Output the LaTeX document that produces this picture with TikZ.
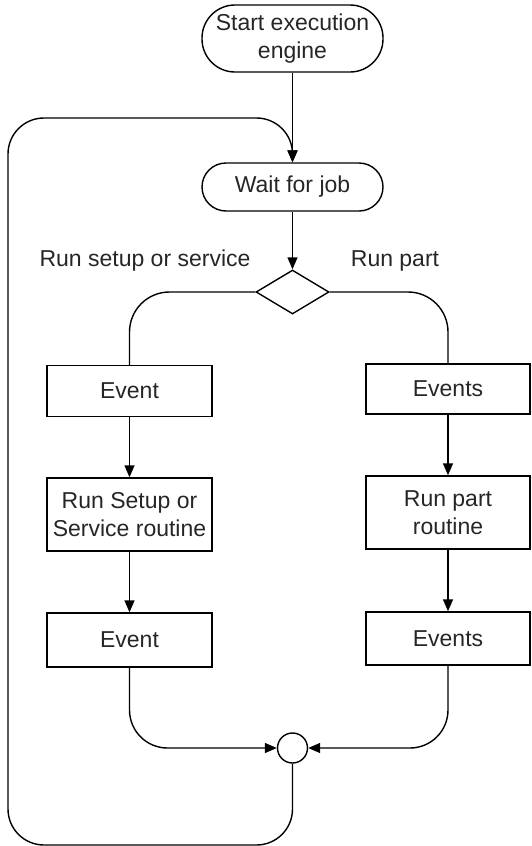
\documentclass[tikz,border=0pt]{standalone}
\usepackage{fontspec}
\setmainfont{Liberation Sans}
\usetikzlibrary{shapes.geometric,arrows.meta}
\begin{document}
\begin{tikzpicture}[x=1pt,y=-1pt,>={Triangle[length=12pt,width=10pt]}]
        \tikzstyle{terminal}=[rectangle,draw=black,line width=1.4pt,text=black!85,align=center,inner sep=2pt,minimum width=181pt,font=\fontsize{23}{28}\selectfont]
        \tikzstyle{process}=[rectangle,draw=black,line width=1.4pt,text=black!85,align=center,inner sep=2pt,minimum width=165pt,font=\fontsize{23}{28}\selectfont]
        \tikzstyle{decision}=[diamond,draw=black,line width=1.4pt,inner sep=0pt,minimum width=73pt,minimum height=44pt]
        \tikzstyle{junction}=[circle,draw=black,line width=1.4pt,inner sep=0pt,minimum size=30pt]
        \tikzstyle{caption}=[text=black!85,font=\fontsize{23}{28}\selectfont]
        \tikzstyle{flow}=[draw=black,line width=1.4pt]
        \useasboundingbox (0,0) rectangle (532,846);
       \begin{scope}
         \node [terminal,minimum height=67pt,rounded corners=33pt] (start) at (292.5,38.5) {Start execution\\engine};
         \node [terminal,minimum height=48pt,rounded corners=24pt] (wait) at (292.5,187) {Wait for job};
         \node [decision] (choice) at (292.5,292) {};
         \node [caption] (lsetup) at (145,261) {Run setup or service};
         \node [caption] (lpart) at (395,261) {Run part};

         \node [process,minimum height=51pt] (ev1) at (129.5,391) {Event};
         \node [process,minimum height=73pt] (setup) at (129.5,514.5) {Run Setup or\\Service routine};
         \node [process,minimum height=54pt] (ev2) at (129.5,640) {Event};

         \node [process,minimum width=164pt,minimum height=50pt] (evs1) at (448,389) {Events};
         \node [process,minimum width=164pt,minimum height=73pt] (part) at (448,512.5) {Run part\\routine};
         \node [process,minimum width=164pt,minimum height=53pt] (evs2) at (448,638.5) {Events};

         \node [junction] (join) at (292.5,748) {};
         \coordinate (bl) at (8,845);
         \coordinate (tl) at (8,118);

         \path[flow,->] (start) edge (wait);
         \path[flow,->] (wait) edge (choice);
         \path[flow,->] (ev1) edge (setup);
         \path[flow,->] (setup) edge (ev2);
         \path[flow,->] (evs1) edge (part);
         \path[flow,->] (part) edge (evs2);

         \draw[flow,rounded corners=40pt] (choice.west) -| (ev1.north);
         \draw[flow,rounded corners=40pt] (choice.east) -| (evs1.north);
         \draw[flow,->,rounded corners=38pt] (ev2.south) |- (join.west);
         \draw[flow,->,rounded corners=38pt] (evs2.south) |- (join.east);
         \draw[flow,->,rounded corners=36pt] (join.south) |- (bl) -- (tl) -| (wait.north);
        \end{scope}
      \end{tikzpicture}
\end{document}
